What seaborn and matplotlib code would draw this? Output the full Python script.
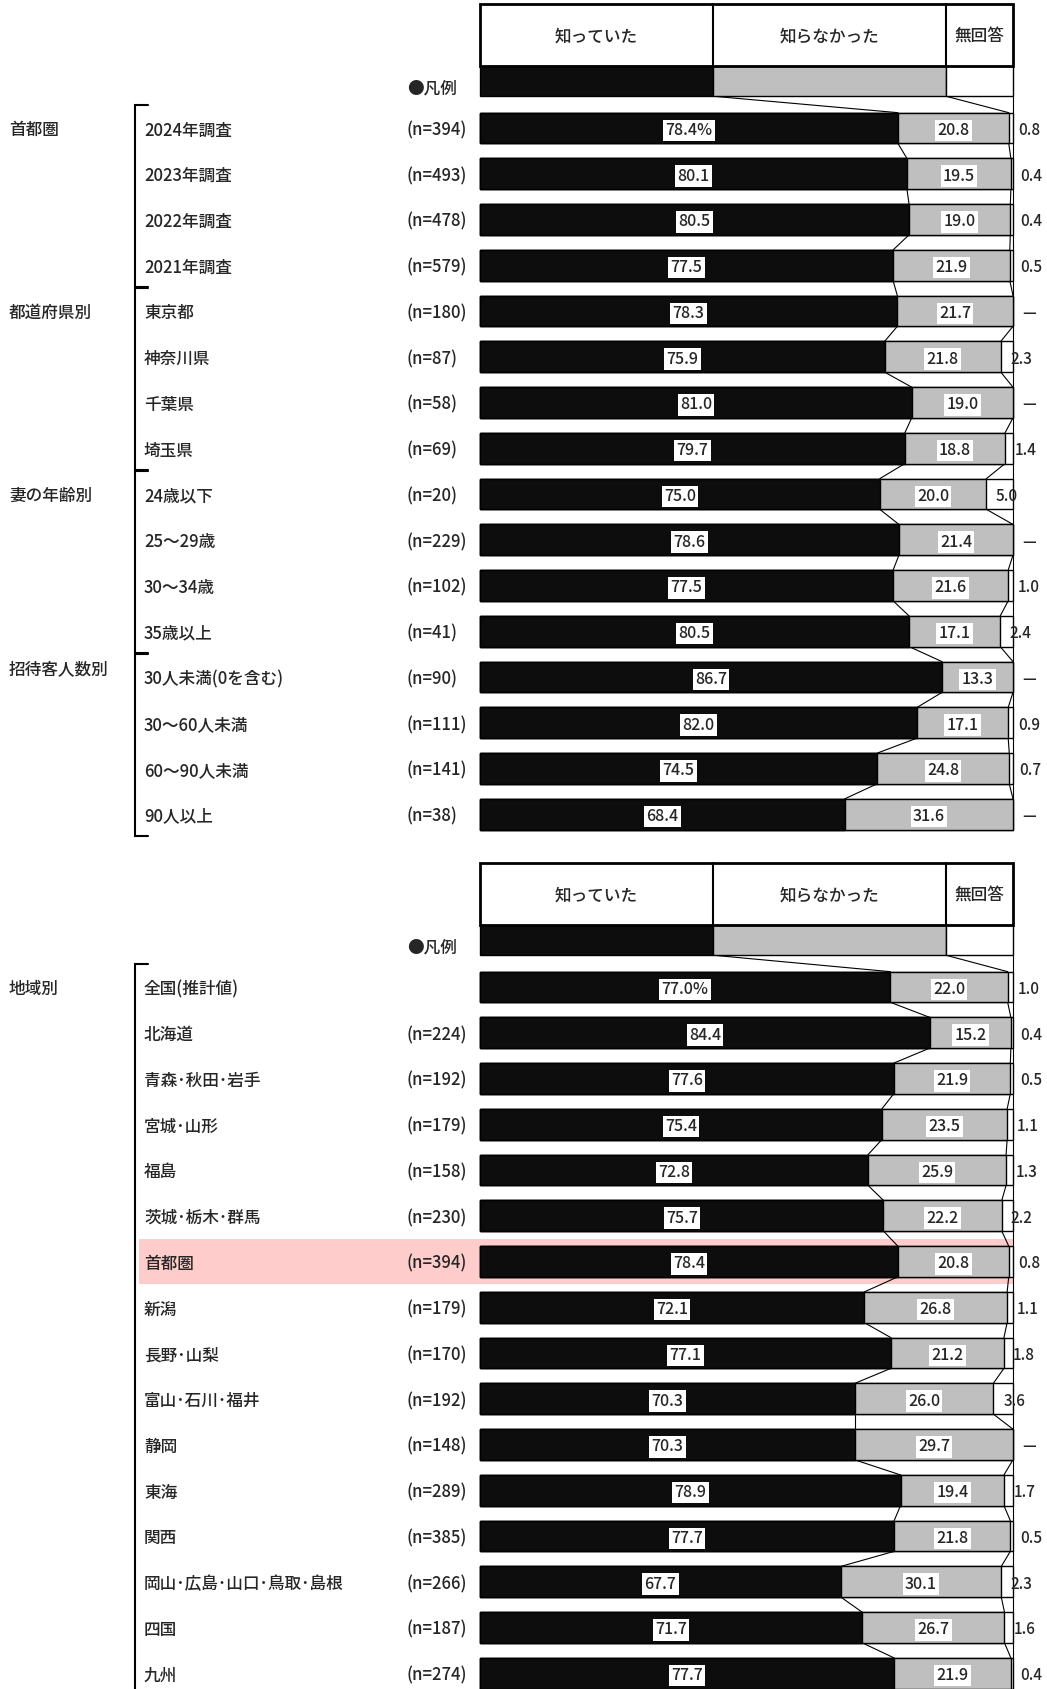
import matplotlib

matplotlib.use("Agg")
import matplotlib.pyplot as plt
import pandas as pd
import seaborn as sns
from matplotlib.patches import Rectangle

BLACK = "#0d0d0d"
GRAY = "#bfbfbf"
PINK = "#ffcccc"

RESPONSES = ["知っていた", "知らなかった", "無回答"]
LEGEND_SPLIT = [43.7, 43.7, 12.6]

# top panel
TOP_GROUPS = ["首都圏", "都道府県別", "妻の年齢別", "招待客人数別"]
TOP_GROUP_SIZES = [4, 4, 4, 4]
TOP_ITEMS = ["2024年調査", "2023年調査", "2022年調査", "2021年調査",
             "東京都", "神奈川県", "千葉県", "埼玉県",
             "24歳以下", "25～29歳", "30～34歳", "35歳以上",
             "30人未満(0を含む)", "30～60人未満", "60～90人未満", "90人以上"]
TOP_N = [394, 493, 478, 579, 180, 87, 58, 69, 20, 229, 102, 41, 90, 111, 141, 38]
TOP_KNEW = [78.4, 80.1, 80.5, 77.5, 78.3, 75.9, 81.0, 79.7,
            75.0, 78.6, 77.5, 80.5, 86.7, 82.0, 74.5, 68.4]
TOP_DIDNT = [20.8, 19.5, 19.0, 21.9, 21.7, 21.8, 19.0, 18.8,
             20.0, 21.4, 21.6, 17.1, 13.3, 17.1, 24.8, 31.6]
TOP_NA = [0.8, 0.4, 0.4, 0.5, 0.0, 2.3, 0.0, 1.4,
          5.0, 0.0, 1.0, 2.4, 0.0, 0.9, 0.7, 0.0]

# bottom panel
BOT_GROUPS = ["地域別"]
BOT_GROUP_SIZES = [16]
BOT_ITEMS = ["全国(推計値)", "北海道", "青森･秋田･岩手", "宮城･山形", "福島",
             "茨城･栃木･群馬", "首都圏", "新潟", "長野･山梨", "富山･石川･福井",
             "静岡", "東海", "関西", "岡山･広島･山口･鳥取･島根", "四国", "九州"]
BOT_N = [None, 224, 192, 179, 158, 230, 394, 179, 170, 192, 148, 289, 385, 266, 187, 274]
BOT_KNEW = [77.0, 84.4, 77.6, 75.4, 72.8, 75.7, 78.4, 72.1,
            77.1, 70.3, 70.3, 78.9, 77.7, 67.7, 71.7, 77.7]
BOT_DIDNT = [22.0, 15.2, 21.9, 23.5, 25.9, 22.2, 20.8, 26.8,
             21.2, 26.0, 29.7, 19.4, 21.8, 30.1, 26.7, 21.9]
BOT_NA = [1.0, 0.4, 0.5, 1.1, 1.3, 2.2, 0.8, 1.1,
          1.8, 3.6, 0.0, 1.7, 0.5, 2.3, 1.6, 0.4]
BOT_HIGHLIGHT = "首都圏"

# layout (pixels of the 1047x1689 canvas)
W, H = 1047, 1689
BAR_X0 = 480
PX_PER_PCT = 5.33
ROW_PX = 45.75
BAR_W = 0.67
LEGEND_ROW = -1.03
HEADER_TOP = -2.71
TXT_DY = 0.05  # CJK glyphs sit a bit high with va="center"
FS = 12
FS_VAL = 11.5
FS_NA = 11
WEIGHT = "medium"


def px(x):
    return (x - BAR_X0) / PX_PER_PCT


def make_frame(items, n, knew, didnt, na):
    df = pd.DataFrame({"item": items, "n": n, "knew": knew, "didnt": didnt, "na": na})
    df["cum2"] = df["knew"] + df["didnt"]
    df["total"] = 100.0
    return df


def label(ax, x, y, s, **kw):
    kw.setdefault("ha", "left")
    kw.setdefault("fontsize", FS)
    ax.text(x, y + TXT_DY, s, va="center", fontweight=WEIGHT, **kw)


def draw_panel(ax, df, groups, sizes, row0_px, top_px, bottom_px, highlight=None, group_dy=None):
    order = list(df["item"])
    for col, color in [("total", "white"), ("cum2", GRAY), ("knew", BLACK)]:
        sns.barplot(data=df, x=col, y="item", order=order, orient="h", color=color,
                    edgecolor="black", linewidth=1, width=BAR_W, saturation=1,
                    errorbar=None, ax=ax, zorder=2)

    # header + legend row
    hdr_bot = LEGEND_ROW - BAR_W / 2
    ax.add_patch(Rectangle((0, HEADER_TOP), 100, hdr_bot - HEADER_TOP,
                           fill=False, lw=2, ec="black", zorder=3))
    lefts = [0, LEGEND_SPLIT[0], LEGEND_SPLIT[0] + LEGEND_SPLIT[1]]
    hdr_mid = (HEADER_TOP + hdr_bot) / 2
    for left, w, lab in zip(lefts, LEGEND_SPLIT, RESPONSES):
        if left > 0:
            ax.plot([left, left], [HEADER_TOP, hdr_bot], color="black", lw=1.5, zorder=3)
        label(ax, left + w / 2, hdr_mid, lab, ha="center")
    ax.barh([LEGEND_ROW] * 3, LEGEND_SPLIT, left=lefts, color=[BLACK, GRAY, "white"],
            edgecolor="black", linewidth=1, height=BAR_W, zorder=2)
    label(ax, px(407), LEGEND_ROW + 0.12, "●凡例")

    # connector lines between bars
    bounds = [[lefts[1], lefts[2], 100.0]] + [[k, c, 100.0] for k, c in zip(df["knew"], df["cum2"])]
    rows = [LEGEND_ROW] + list(range(len(df)))
    for r in range(len(rows) - 1):
        for b0, b1 in zip(bounds[r], bounds[r + 1]):
            ax.plot([b0, b1], [rows[r] + BAR_W / 2, rows[r + 1] - BAR_W / 2],
                    color="black", lw=0.8, zorder=1)

    # labels per row
    box = dict(facecolor="white", edgecolor="none", pad=1.6)
    for i, row in df.iterrows():
        if row["item"] == highlight:
            ax.add_patch(Rectangle((px(139), i - 0.5), 100 - px(139), 1.0,
                                   color=PINK, lw=0, zorder=0))
        label(ax, px(144), i, row["item"])
        if pd.notna(row["n"]):
            label(ax, px(407), i, f"(n={int(row['n'])})")
        suffix = "%" if i == 0 else ""
        label(ax, row["knew"] / 2, i, f"{row['knew']:.1f}{suffix}", ha="center",
              fontsize=FS_VAL, bbox=box, zorder=4)
        label(ax, row["knew"] + row["didnt"] / 2, i, f"{row['didnt']:.1f}", ha="center",
              fontsize=FS_VAL, bbox=box, zorder=4)
        na_txt = "—" if row["na"] == 0 else f"{row['na']:.1f}"
        label(ax, 100 - row["na"] + 1.8, i, na_txt, fontsize=FS_NA, zorder=4)

    # group labels and brackets
    start = 0
    group_dy = group_dy or [0] * len(groups)
    for g, size, dy in zip(groups, sizes, group_dy):
        first, last = start, start + size - 1
        label(ax, px(9), first + dy, g)
        top, bot = first - 0.5, last + 0.48
        ax.plot([px(148), px(135), px(135), px(148)], [top, top, bot, bot],
                color="black", lw=1.5, zorder=3, solid_joinstyle="miter")
        start += size

    ax.set_xlim(px(0), px(W))
    ax.set_ylim((bottom_px - row0_px) / ROW_PX, (top_px - row0_px) / ROW_PX)
    ax.axis("off")


def main():
    sns.set_theme(style="white")
    plt.rcParams["font.family"] = ["Noto Sans CJK JP", "DejaVu Sans"]

    top = make_frame(TOP_ITEMS, TOP_N, TOP_KNEW, TOP_DIDNT, TOP_NA)
    bot = make_frame(BOT_ITEMS, BOT_N, BOT_KNEW, BOT_DIDNT, BOT_NA)

    fig = plt.figure(figsize=(W / 100, H / 100), dpi=100)
    split = 850
    ax1 = fig.add_axes([0, 1 - split / H, 1, split / H])
    ax2 = fig.add_axes([0, 0, 1, 1 - split / H])

    draw_panel(ax1, top, TOP_GROUPS, TOP_GROUP_SIZES, row0_px=128, top_px=0, bottom_px=split,
               group_dy=[0, 0, 0, -0.22])
    draw_panel(ax2, bot, BOT_GROUPS, BOT_GROUP_SIZES, row0_px=987, top_px=split, bottom_px=H,
               highlight=BOT_HIGHLIGHT)

    fig.savefig("out.png", dpi=100)
    plt.close(fig)


if __name__ == "__main__":
    main()
